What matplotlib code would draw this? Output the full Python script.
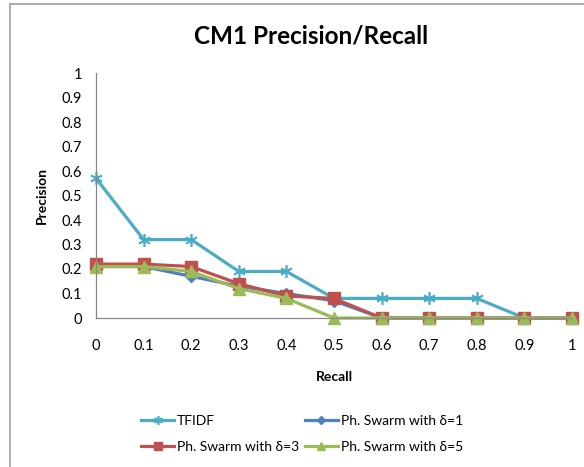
import matplotlib.pyplot as plt
from matplotlib.lines import Line2D

plt.rcParams['font.family'] = ['Lato', 'DejaVu Sans']

recall = [0, 0.1, 0.2, 0.3, 0.4, 0.5, 0.6, 0.7, 0.8, 0.9, 1]
tfidf = [0.57, 0.32, 0.32, 0.19, 0.19, 0.08, 0.08, 0.08, 0.08, 0, 0]
swarm_d1 = [0.21, 0.21, 0.17, 0.13, 0.10, 0.07, 0, 0, 0, 0, 0]
swarm_d3 = [0.22, 0.22, 0.21, 0.14, 0.09, 0.08, 0, 0, 0, 0, 0]
swarm_d5 = [0.21, 0.21, 0.19, 0.12, 0.08, 0, 0, 0, 0, 0, 0]
x_ticks = ['0', '0.1', '0.2', '0.3', '0.4', '0.5', '0.6', '0.7', '0.8', '0.9', '1']
y_ticks = ['0', '0.1', '0.2', '0.3', '0.4', '0.5', '0.6', '0.7', '0.8', '0.9', '1']

fig = plt.figure(figsize=(5.84, 4.67), dpi=100)
ax = fig.add_axes([96/584, 1-318/467, (572-96)/584, (318-73)/467])

lw = 2.3
l1, = ax.plot(recall, tfidf, color='#4BACC6', lw=lw, marker=(6, 2, 0), ms=9, mew=1.2, label='TFIDF')
l2, = ax.plot(recall, swarm_d1, color='#4F81BD', lw=lw, marker='D', ms=6, label='Ph. Swarm with δ=1')
l3, = ax.plot(recall, swarm_d3, color='#C0504D', lw=lw, marker='s', ms=8, label='Ph. Swarm with δ=3')
l4, = ax.plot(recall, swarm_d5, color='#9BBB59', lw=lw, marker='^', ms=8, label='Ph. Swarm with δ=5')
for l in (l1, l2, l3, l4):
    l.set_clip_on(False)

ax.set_xlim(0, 1)
ax.set_ylim(0, 1)
ax.set_xticks([float(v) for v in x_ticks])
ax.set_xticklabels(x_ticks)
ax.set_yticks([float(v) for v in y_ticks])
ax.set_yticklabels(y_ticks)
ax.tick_params(length=0, labelsize=10.5, colors='black')
ax.tick_params(axis='x', pad=15)
ax.tick_params(axis='y', pad=10)
for s in ('top', 'right'):
    ax.spines[s].set_visible(False)
for s in ('left', 'bottom'):
    ax.spines[s].set_color('#888888')
    ax.spines[s].set_linewidth(0.9)

ax.set_xlabel('Recall', fontsize=10, fontweight='bold', labelpad=13)
ax.set_ylabel('Precision', fontsize=10, fontweight='bold', labelpad=10)
fig.text(311/584, 1-36/467, 'CM1 Precision/Recall', ha='center', va='center',
         fontsize=17.5, fontweight='bold')

# legend: rows TFIDF / δ=1, then δ=3 / δ=5
fig.legend([l1, l3, l2, l4], [l1.get_label(), l3.get_label(), l2.get_label(), l4.get_label()],
           ncol=2, frameon=False, loc='center', bbox_to_anchor=(302/584, 1-434/467),
           fontsize=10, handlelength=2.4, handletextpad=0.2, columnspacing=0.4,
           labelspacing=1.05, markerscale=0.7)

# outer chart border (cropped)
fig.add_artist(Line2D([10/584, 1], [1-4/467, 1-4/467], color='#A0A0A0', lw=1.2, transform=fig.transFigure))
fig.add_artist(Line2D([10/584, 10/584], [1-4/467, 0], color='#A0A0A0', lw=1.2, transform=fig.transFigure))

fig.savefig('out.png', dpi=100)
